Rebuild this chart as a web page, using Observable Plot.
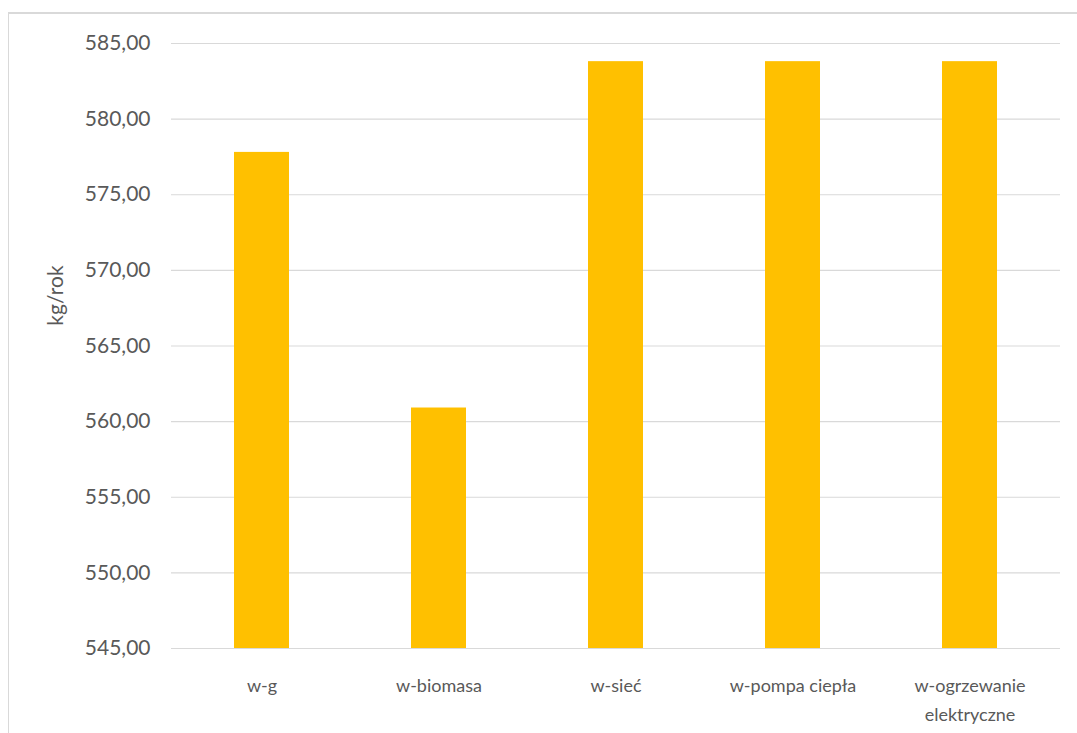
<!DOCTYPE html>
<html>
<head>
<meta charset="utf-8">
<script src="https://cdn.jsdelivr.net/npm/d3@7"></script>
<script src="https://cdn.jsdelivr.net/npm/@observablehq/plot@0.6"></script>
<style>
  html, body { margin: 0; padding: 0; background: #fff; }
  #wrap { position: relative; width: 1077px; height: 733px; overflow: hidden; }
  #frame { position: absolute; left: 8px; top: 12px; right: -2px; bottom: -2px;
           border-top: 2px solid #d9d9d9; border-left: 1px solid #d9d9d9; pointer-events: none; }
  svg { display: block; }
</style>
</head>
<body>
<div id="wrap"><div id="frame"></div></div>
<script>
const categories = ["w-g", "w-biomasa", "w-sieć", "w-pompa ciepła", "w-ogrzewanie\nelektryczne"];
const values = [577.8, 560.9, 583.8, 583.8, 583.8];
const yTicks = [545, 550, 555, 560, 565, 570, 575, 580, 585];
const yLabel = "kg/rok";

const data = categories.map((c, i) => ({category: c, value: values[i]}));
const yMin = yTicks[0], yMax = yTicks[yTicks.length - 1];
const fmt = d => d3.format(".2f")(d).replace(".", ",");
const font = "Lato, 'Open Sans', sans-serif";
const textColor = "#595959";

const chart = Plot.plot({
  width: 1077,
  height: 733,
  marginLeft: 171,
  marginRight: 17,
  marginTop: 43,
  marginBottom: 85,
  style: {fontFamily: font, background: "transparent", overflow: "visible"},
  x: {domain: categories, paddingInner: 0.69, paddingOuter: 0.345, axis: null},
  y: {domain: [yMin, yMax]},
  marks: [
    Plot.gridY(yTicks, {stroke: "#d9d9d9", strokeOpacity: 1, strokeWidth: 1.2}),
    Plot.barY(data, {x: "category", y1: () => yMin, y2: "value", fill: "#FFC000"}),
    Plot.axisY(yTicks, {tickSize: 0, tickPadding: 21, tickFormat: fmt, fontSize: 21, fill: textColor, label: null}),
    Plot.text(categories, {x: d => d, text: d => d, frameAnchor: "bottom", lineAnchor: "top", dy: 23,
      fontSize: 18, lineHeight: 1.62, fill: textColor}),
    Plot.text([yLabel], {frameAnchor: "top-left", dx: -123, dy: 252, rotate: -90, textAnchor: "middle",
      fontSize: 21, fill: textColor})
  ]
});
document.getElementById("wrap").prepend(chart);
</script>
</body>
</html>
